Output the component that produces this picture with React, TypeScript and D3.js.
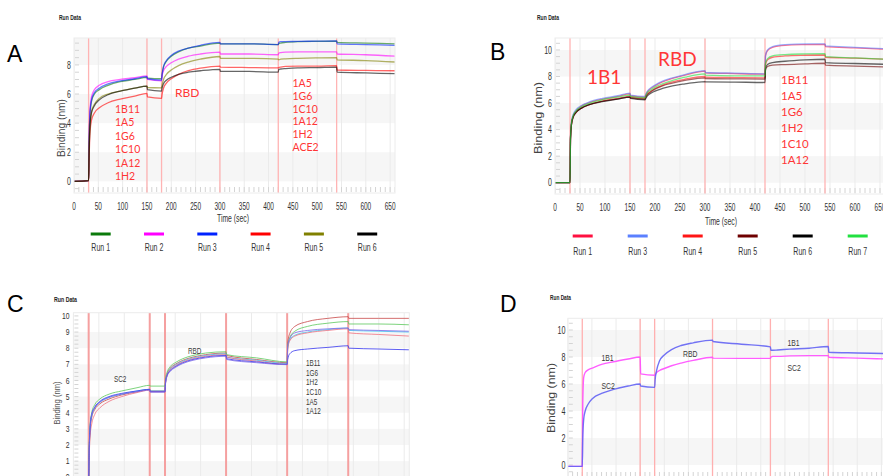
import React from 'react';
import * as d3 from 'd3';

// Shared sampling times (sec) used by every sensorgram
const T = [0, 30, 31, 33, 36, 42, 52, 70, 95, 125, 150, 151, 180, 181, 184, 190, 200, 215, 235, 260, 300, 301, 360, 420, 421, 425, 435, 460, 500, 540, 541, 600, 660];
const STEP_TIMES = [30, 150, 180, 300, 420, 540];
const X_TICKS = [0, 50, 100, 150, 200, 250, 300, 350, 400, 450, 500, 550, 600, 650];

// Panel A
const A_LABELS = ['Run 1', 'Run 2', 'Run 3', 'Run 4', 'Run 5', 'Run 6'];
const A_COLORS = ['#0b7a0b', '#ff00ff', '#0022ff', '#ff0000', '#808000', '#000000'];
const A_RUN1 = [0, 0.05, 2.4, 4.6, 5.5, 6.0, 6.3, 6.6, 6.85, 7.0, 7.15, 7.1, 7.05, 7.3, 7.85, 8.25, 8.6, 8.9, 9.15, 9.3, 9.5, 9.45, 9.45, 9.4, 9.45, 9.5, 9.55, 9.6, 9.62, 9.63, 9.55, 9.5, 9.45];
const A_RUN2 = [0, 0.05, 2.6, 5.0, 5.8, 6.3, 6.6, 6.85, 7.0, 7.12, 7.25, 7.0, 6.9, 7.2, 7.6, 7.9, 8.15, 8.4, 8.6, 8.75, 8.88, 8.75, 8.75, 8.7, 8.82, 8.85, 8.88, 8.9, 8.9, 8.9, 8.75, 8.7, 8.6];
const A_RUN3 = [0, 0.05, 2.5, 4.8, 5.6, 6.1, 6.4, 6.7, 6.9, 7.05, 7.2, 7.05, 6.95, 7.3, 7.9, 8.3, 8.65, 8.95, 9.15, 9.35, 9.55, 9.45, 9.45, 9.4, 9.55, 9.6, 9.6, 9.62, 9.63, 9.65, 9.45, 9.4, 9.35];
const A_RUN4 = [0, 0.05, 1.5, 3.4, 4.2, 4.7, 5.05, 5.4, 5.65, 5.85, 6.05, 5.8, 5.7, 5.95, 6.4, 6.75, 7.05, 7.35, 7.6, 7.78, 7.92, 7.85, 7.82, 7.8, 7.82, 7.85, 7.9, 7.92, 7.92, 7.95, 7.65, 7.62, 7.6];
const A_RUN5 = [0, 0.05, 2.0, 4.0, 4.8, 5.3, 5.7, 6.0, 6.2, 6.4, 6.55, 6.45, 6.42, 6.6, 7.0, 7.35, 7.65, 7.95, 8.2, 8.4, 8.58, 8.45, 8.45, 8.4, 8.35, 8.4, 8.42, 8.45, 8.48, 8.5, 8.35, 8.3, 8.2];
const A_RUN6 = [0, 0.05, 1.9, 3.9, 4.7, 5.2, 5.6, 5.95, 6.2, 6.4, 6.55, 6.3, 6.2, 6.4, 6.7, 6.95, 7.15, 7.35, 7.5, 7.6, 7.7, 7.55, 7.55, 7.5, 7.7, 7.72, 7.75, 7.8, 7.82, 7.85, 7.5, 7.45, 7.4];
const A_Y_TICKS = [0, 2, 4, 6, 8];
const A_NOTE_LEFT = ['1B11', '1A5', '1G6', '1C10', '1A12', '1H2'];
const A_NOTE_RIGHT = ['1A5', '1G6', '1C10', '1A12', '1H2', 'ACE2'];

// Panel B
const B_LABELS = ['Run 1', 'Run 3', 'Run 4', 'Run 5', 'Run 6', 'Run 7'];
const B_COLORS = ['#ff1040', '#5b80ff', '#ff1515', '#6e0000', '#000000', '#22e040'];
const B_RUN1 = [0, 0, 3.4, 4.5, 5.0, 5.4, 5.75, 6.05, 6.3, 6.5, 6.7, 6.55, 6.45, 6.55, 6.8, 7.05, 7.3, 7.6, 7.85, 8.1, 8.4, 8.28, 8.22, 8.18, 9.55, 9.95, 10.2, 10.35, 10.4, 10.42, 10.25, 10.15, 10.05];
const B_RUN3 = [0, 0, 3.5, 4.6, 5.1, 5.5, 5.8, 6.1, 6.35, 6.55, 6.75, 6.6, 6.5, 6.6, 6.85, 7.1, 7.35, 7.65, 7.9, 8.15, 8.45, 8.3, 8.25, 8.2, 9.6, 10.0, 10.25, 10.4, 10.45, 10.45, 10.3, 10.2, 10.1];
const B_RUN4 = [0, 0, 3.3, 4.4, 4.9, 5.3, 5.6, 5.9, 6.15, 6.35, 6.5, 6.45, 6.35, 6.45, 6.65, 6.85, 7.1, 7.35, 7.6, 7.8, 8.0, 7.95, 7.92, 7.9, 8.9, 9.25, 9.45, 9.55, 9.6, 9.62, 9.45, 9.38, 9.3];
const B_RUN5 = [0, 0, 3.3, 4.4, 4.9, 5.3, 5.6, 5.9, 6.15, 6.3, 6.45, 6.4, 6.3, 6.4, 6.6, 6.8, 7.05, 7.3, 7.5, 7.7, 7.9, 7.85, 7.82, 7.8, 8.5, 8.75, 8.85, 8.9, 8.95, 9.0, 8.85, 8.78, 8.72];
const B_RUN6 = [0, 0, 3.3, 4.4, 4.9, 5.3, 5.6, 5.9, 6.1, 6.3, 6.45, 6.35, 6.25, 6.3, 6.5, 6.7, 6.9, 7.1, 7.3, 7.45, 7.62, 7.6, 7.58, 7.55, 8.6, 8.9, 9.05, 9.15, 9.25, 9.3, 9.05, 8.98, 8.92];
const B_RUN7 = [0, 0, 3.4, 4.5, 5.0, 5.4, 5.7, 6.0, 6.25, 6.45, 6.6, 6.5, 6.4, 6.5, 6.75, 6.95, 7.2, 7.45, 7.7, 7.95, 8.2, 8.1, 8.05, 8.05, 9.0, 9.35, 9.55, 9.65, 9.7, 9.72, 9.5, 9.4, 9.3];
const B_Y_TICKS = [0, 2, 4, 6, 8, 10];
const B_NOTE_RIGHT = ['1B11', '1A5', '1G6', '1H2', '1C10', '1A12'];

// Panel C
const C_COLORS = ['#c84848', '#5cc85c', '#40c4f0', '#f07080', '#3434ee', '#7a66e6'];
const C_S1 = [0, 0, 1.5, 3.0, 3.7, 4.2, 4.55, 4.85, 5.1, 5.3, 5.45, 5.35, 5.35, 5.9, 6.4, 6.75, 7.0, 7.25, 7.45, 7.6, 7.7, 7.55, 7.3, 7.1, 8.3, 8.9, 9.35, 9.65, 9.85, 9.95, 9.85, 9.85, 9.85];
const C_S2 = [0, 0, 1.8, 3.3, 4.0, 4.5, 4.85, 5.15, 5.35, 5.55, 5.7, 5.65, 5.65, 6.1, 6.5, 6.85, 7.1, 7.35, 7.55, 7.7, 7.78, 7.6, 7.4, 7.15, 8.1, 8.65, 9.05, 9.35, 9.55, 9.65, 9.5, 9.5, 9.45];
const C_S3 = [0, 0, 1.6, 3.1, 3.8, 4.3, 4.65, 4.95, 5.15, 5.35, 5.45, 5.35, 5.35, 5.9, 6.35, 6.7, 6.95, 7.2, 7.4, 7.55, 7.65, 7.45, 7.25, 7.05, 8.0, 8.5, 8.8, 9.0, 9.15, 9.25, 9.1, 9.05, 9.0];
const C_S4 = [0, 0, 1.2, 2.6, 3.3, 3.9, 4.3, 4.7, 5.0, 5.25, 5.4, 5.3, 5.3, 5.8, 6.3, 6.65, 6.9, 7.15, 7.35, 7.5, 7.6, 7.45, 7.2, 7.0, 7.9, 8.45, 8.75, 8.95, 9.1, 9.2, 8.95, 8.85, 8.75];
const C_S5 = [0, 0, 1.7, 3.2, 3.9, 4.35, 4.7, 5.0, 5.2, 5.35, 5.45, 5.3, 5.3, 5.85, 6.3, 6.6, 6.85, 7.1, 7.3, 7.45, 7.55, 7.35, 7.15, 7.0, 7.3, 7.65, 7.85, 7.95, 8.05, 8.15, 8.0, 7.95, 7.9];
const C_S6 = [0, 0, 1.6, 3.1, 3.85, 4.3, 4.65, 4.95, 5.15, 5.3, 5.4, 5.28, 5.28, 5.8, 6.25, 6.55, 6.8, 7.05, 7.25, 7.4, 7.5, 7.3, 7.1, 6.98, 8.1, 8.6, 8.95, 9.1, 9.2, 9.25, 9.15, 9.1, 9.05];
const C_Y_TICKS = [0, 1, 2, 3, 4, 5, 6, 7, 8, 9, 10];
const C_NOTE_RIGHT = ['1B11', '1G6', '1H2', '1C10', '1A5', '1A12'];

// Panel D
const D_COLORS = ['#ff4cff', '#6464f4'];
const D_1B1_FIRST = [-0.1, -0.1, 4.5, 6.5, 6.85, 7.05, 7.2, 7.45, 7.65, 7.85, 8.0, 6.75, 6.65, 6.7, 6.85, 7.0, 7.15, 7.35, 7.55, 7.75, 7.98, 7.92, 7.9, 7.9, 8.0, 8.05, 8.05, 8.08, 8.1, 8.1, 7.98, 7.92, 7.85];
const D_SC2_FIRST = [-0.1, -0.1, 2.0, 3.4, 4.0, 4.5, 4.95, 5.3, 5.6, 5.85, 6.0, 5.85, 5.75, 6.3, 7.0, 7.7, 8.15, 8.55, 8.85, 9.05, 9.25, 9.15, 8.95, 8.75, 8.5, 8.5, 8.52, 8.58, 8.65, 8.78, 8.35, 8.3, 8.25];
const D_Y_TICKS = [0, 2, 4, 6, 8, 10];

const SANS = "'Liberation Sans', Arial, sans-serif";
const NOTE_FONT = "Lato, 'Noto Sans', sans-serif";

type CTProps = {
  x: number; y: number; s?: number; size?: number; anchor?: string; fill?: string;
  weight?: number; family?: string; rotate?: number; len?: number; children: React.ReactNode;
};
function CT({ x, y, s = 0.65, size = 10, anchor = 'middle', fill = '#333', weight = 400, family = SANS, rotate, len, children }: CTProps) {
  const tr = `translate(${x},${y})` + (rotate ? ` rotate(${rotate})` : '') + (len ? '' : ` scale(${s},1)`);
  return (
    <text transform={tr} fontSize={size} textAnchor={anchor as any} fill={fill} fontWeight={weight} fontFamily={family}
      {...(len ? { textLength: len, lengthAdjust: 'spacingAndGlyphs' } : {})}>
      {children}
    </text>
  );
}

type Series = { vals: number[]; color: string; width: number; opacity: number };
type PanelCfg = {
  id: string; left: number; right: number; top: number; bottom: number; yDom: [number, number];
  bands: [number, number][]; yTicks: number[]; series: Series[]; markColor: string; markWidth: number;
  yLabelX: number; tickSize: number; tickS: number; minorY: number;
};

function Panel({ cfg }: { cfg: PanelCfg }) {
  const x = d3.scaleLinear().domain([0, 660]).range([cfg.left, cfg.right]);
  const y = d3.scaleLinear().domain(cfg.yDom).range([cfg.bottom, cfg.top]);
  const line = d3.line<number>().x((_, i) => x(T[i])).y((v) => y(v)).curve(d3.curveMonotoneX);
  const minorX = d3.range(0, 661, 10);
  const minorY = d3.range(Math.ceil(cfg.yDom[0] / cfg.minorY) * cfg.minorY, cfg.yDom[1], cfg.minorY);
  return (
    <g>
      <defs>
        <clipPath id={`clip-${cfg.id}`}>
          <rect x={cfg.left} y={cfg.top} width={cfg.right - cfg.left} height={cfg.bottom - cfg.top} />
        </clipPath>
      </defs>
      <g clipPath={`url(#clip-${cfg.id})`}>
        <rect x={cfg.left} y={cfg.top} width={cfg.right - cfg.left} height={cfg.bottom - cfg.top} fill="#fff" />
        {cfg.bands.map(([lo, hi], i) => (
          <rect key={i} x={cfg.left} width={cfg.right - cfg.left}
            y={y(Math.min(hi, cfg.yDom[1]))} height={y(Math.max(lo, cfg.yDom[0])) - y(Math.min(hi, cfg.yDom[1]))}
            fill="#f6f6f6" />
        ))}
        {X_TICKS.map((t) => (
          <line key={t} x1={x(t)} x2={x(t)} y1={cfg.top} y2={cfg.bottom} stroke="#ebebeb" strokeWidth={1} />
        ))}
        {minorX.map((t) => (
          <line key={t} x1={x(t)} x2={x(t)} y1={cfg.bottom - 6} y2={cfg.bottom - 1} stroke="#d4d4d4" strokeWidth={1} />
        ))}
        {minorY.map((v) => (
          <line key={v} x1={cfg.left + 1} x2={cfg.left + 5} y1={y(v)} y2={y(v)} stroke="#d4d4d4" strokeWidth={1} />
        ))}
        {STEP_TIMES.map((t) => (
          <line key={t} x1={x(t)} x2={x(t)} y1={cfg.top} y2={cfg.bottom} stroke={cfg.markColor} strokeWidth={cfg.markWidth} />
        ))}
        {cfg.series.map((s, i) => (
          <path key={i} d={line(s.vals) || ''} fill="none" stroke={s.color} strokeWidth={s.width} strokeOpacity={s.opacity} />
        ))}
      </g>
      <rect x={cfg.left} y={cfg.top} width={cfg.right - cfg.left} height={cfg.bottom - cfg.top} fill="none" stroke="#ececec" />
      {cfg.yTicks.map((v) => (
        <CT key={v} x={cfg.yLabelX} y={y(v) + cfg.tickSize * 0.36} anchor="end" size={cfg.tickSize} s={cfg.tickS} fill="#333">
          {v}
        </CT>
      ))}
    </g>
  );
}

export default function App() {
  const xA = d3.scaleLinear().domain([0, 660]).range([74, 395]);
  const xB = d3.scaleLinear().domain([0, 660]).range([555, 885]);

  const cfgA: PanelCfg = {
    id: 'A', left: 74, right: 395, top: 38, bottom: 193, yDom: [-0.8, 9.85],
    bands: [[8, 10], [4, 6], [0, 2]], yTicks: A_Y_TICKS,
    series: [A_RUN1, A_RUN2, A_RUN3, A_RUN4, A_RUN5, A_RUN6].map((vals, i) => ({ vals, color: A_COLORS[i], width: 1.3, opacity: 0.6 })),
    markColor: '#ffb4b4', markWidth: 1.3, yLabelX: 71, tickSize: 10, tickS: 0.7, minorY: 0.5,
  };
  const cfgB: PanelCfg = {
    id: 'B', left: 555, right: 885, top: 38, bottom: 194, yDom: [-0.85, 10.9],
    bands: [[8, 10], [4, 6], [0, 2]], yTicks: B_Y_TICKS,
    series: [B_RUN1, B_RUN3, B_RUN4, B_RUN5, B_RUN6, B_RUN7].map((vals, i) => ({ vals, color: B_COLORS[i], width: 1.3, opacity: 0.6 })),
    markColor: '#ffb4b4', markWidth: 1.3, yLabelX: 552, tickSize: 10, tickS: 0.7, minorY: 0.5,
  };
  const cfgC: PanelCfg = {
    id: 'C', left: 73.4, right: 409.3, top: 312.7, bottom: 493.4, yDom: [-1, 10.2],
    bands: [[8, 9], [6, 7], [4, 5], [2, 3], [0, 1]], yTicks: C_Y_TICKS,
    series: [C_S1, C_S2, C_S3, C_S4, C_S5, C_S6].map((vals, i) => ({ vals, color: C_COLORS[i], width: 1, opacity: 0.8 })),
    markColor: '#f5a0a0', markWidth: 2, yLabelX: 69.5, tickSize: 8.5, tickS: 0.8, minorY: 0.25,
  };
  const cfgD: PanelCfg = {
    id: 'D', left: 567.8, right: 886.2, top: 318.3, bottom: 478, yDom: [-0.963, 10.867],
    bands: [[8, 10], [4, 6], [0, 2]], yTicks: D_Y_TICKS,
    series: [D_1B1_FIRST, D_SC2_FIRST].map((vals, i) => ({ vals, color: D_COLORS[i], width: 1.4, opacity: 0.9 })),
    markColor: '#ffb0b0', markWidth: 1.3, yLabelX: 565.5, tickSize: 10, tickS: 0.72, minorY: 0.5,
  };

  const red = '#ff3636';
  const gray = '#3a3a3a';

  return (
    <svg width={883} height={476} style={{ position: 'absolute', left: 0, top: 0, display: 'block', background: '#fff' }}
      fontFamily={SANS}>
      <rect width={883} height={476} fill="#fff" />

      {/* Panel letters */}
      <text x={7} y={62} fontSize={23} fontFamily={SANS}>A</text>
      <text x={490} y={60} fontSize={23} fontFamily={SANS}>B</text>
      <text x={7} y={312} fontSize={23} fontFamily={SANS}>C</text>
      <text x={500} y={312} fontSize={23} fontFamily={SANS}>D</text>

      {/* Run Data titles */}
      <CT x={59} y={20} anchor="start" size={8} weight={700} len={22} fill="#222">Run Data</CT>
      <CT x={537} y={20} anchor="start" size={8} weight={700} len={22} fill="#222">Run Data</CT>
      <CT x={54} y={302} anchor="start" size={8} weight={700} len={23} fill="#222">Run Data</CT>
      <CT x={550} y={300} anchor="start" size={8} weight={700} len={21} fill="#222">Run Data</CT>

      <Panel cfg={cfgA} />
      <Panel cfg={cfgB} />
      <Panel cfg={cfgC} />
      <Panel cfg={cfgD} />

      {/* Axis labels */}
      <CT x={65} y={128} rotate={-90} size={11} len={58} fill="#444">Binding (nm)</CT>
      <CT x={542} y={118} rotate={-90} size={11} len={72} fill="#444">Binding (nm)</CT>
      <CT x={60} y={403} rotate={-90} size={9} len={43} fill="#555">Binding (nm)</CT>
      <CT x={555} y={398} rotate={-90} size={11} len={70} fill="#444">Binding (nm)</CT>

      {X_TICKS.map((t) => (
        <CT key={'xa' + t} x={xA(t)} y={210} size={10} s={0.65}>{t}</CT>
      ))}
      {X_TICKS.map((t) => (
        <CT key={'xb' + t} x={xB(t)} y={210.5} size={10} s={0.65}>{t}</CT>
      ))}
      <CT x={233} y={222} size={11} len={32}>Time (sec)</CT>
      <CT x={721} y={224.5} size={11} len={32}>Time (sec)</CT>

      {/* Legends */}
      {A_LABELS.map((lab, i) => {
        const cx = 100.7 + i * 53.3;
        return (
          <g key={lab}>
            <line x1={cx - 10} x2={cx + 10} y1={234} y2={234} stroke={A_COLORS[i]} strokeWidth={3} />
            <CT x={cx} y={251} size={10} s={0.7}>{lab}</CT>
          </g>
        );
      })}
      {B_LABELS.map((lab, i) => {
        const cx = 582.7 + i * 55;
        return (
          <g key={lab}>
            <line x1={cx - 10} x2={cx + 10} y1={236} y2={236} stroke={B_COLORS[i]} strokeWidth={3} />
            <CT x={cx} y={255} size={10} s={0.7}>{lab}</CT>
          </g>
        );
      })}

      {/* Panel A annotations */}
      {A_NOTE_LEFT.map((s, i) => (
        <text key={'al' + i} x={115} y={113 + i * 13.4} fontSize={10.5} fill={red} fontFamily={NOTE_FONT}>{s}</text>
      ))}
      <text x={175} y={97} fontSize={12} fill={red} fontFamily={NOTE_FONT}>RBD</text>
      {A_NOTE_RIGHT.map((s, i) => (
        <text key={'ar' + i} x={292.5} y={87 + i * 12.8} fontSize={10.5} fill={red} fontFamily={NOTE_FONT}>{s}</text>
      ))}

      {/* Panel B annotations */}
      <text x={587} y={84} fontSize={19} fill={red} fontFamily={NOTE_FONT}>1B1</text>
      <text x={658} y={66} fontSize={19} fill={red} fontFamily={NOTE_FONT}>RBD</text>
      {B_NOTE_RIGHT.map((s, i) => (
        <text key={'br' + i} x={781} y={84 + i * 16} fontSize={11.5} fill={red} fontFamily={NOTE_FONT}>{s}</text>
      ))}

      {/* Panel C annotations */}
      <CT x={114} y={381.5} anchor="start" size={8.5} s={0.75} fill={gray}>SC2</CT>
      <CT x={188} y={354} anchor="start" size={8.5} s={0.75} fill={gray}>RBD</CT>
      {C_NOTE_RIGHT.map((s, i) => (
        <CT key={'cr' + i} x={306} y={366 + i * 9.65} anchor="start" size={8.5} s={0.75} fill={gray}>{s}</CT>
      ))}

      {/* Panel D annotations */}
      <CT x={601.5} y={361} anchor="start" size={9.5} s={0.72} fill={gray}>1B1</CT>
      <CT x={601.5} y={388.5} anchor="start" size={9.5} s={0.72} fill={gray}>SC2</CT>
      <CT x={683} y={356.5} anchor="start" size={9.5} s={0.72} fill={gray}>RBD</CT>
      <CT x={787.5} y={346} anchor="start" size={9.5} s={0.72} fill={gray}>1B1</CT>
      <CT x={787.5} y={370.5} anchor="start" size={9.5} s={0.72} fill={gray}>SC2</CT>
    </svg>
  );
}
